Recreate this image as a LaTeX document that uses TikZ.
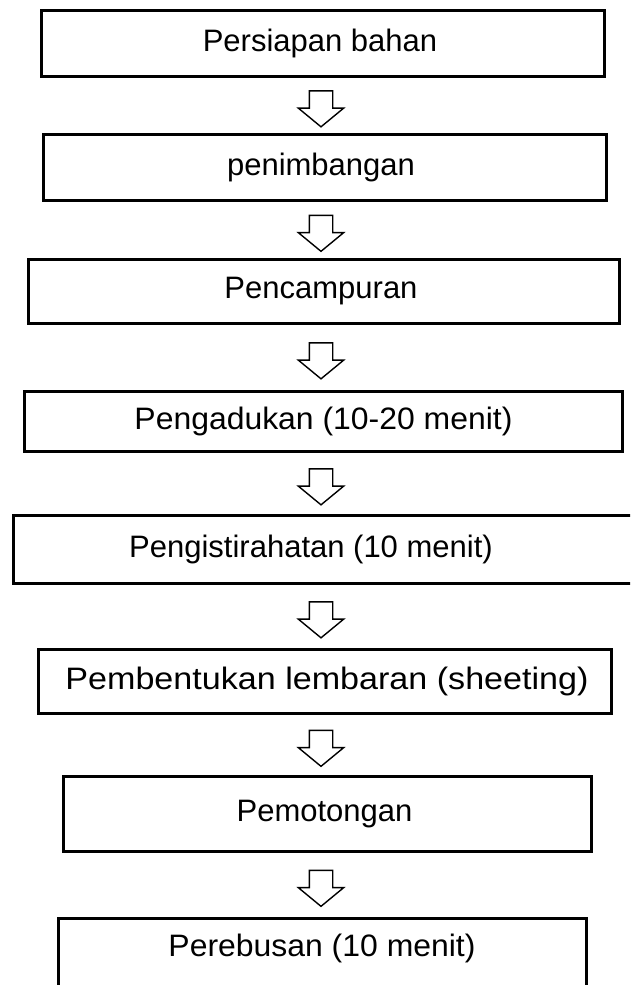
\documentclass[tikz,border=0pt]{standalone}
\usepackage{fontspec}
\setmainfont{Liberation Sans}
\usetikzlibrary{shapes.arrows,calc}
\tikzset{
  stepbox/.style={draw, line width=3pt, inner sep=0pt, font=\fontsize{31pt}{37pt}\selectfont},
  steptext/.style={inner sep=0pt, font=\fontsize{31pt}{37pt}\selectfont},
  blk/.style={single arrow, draw, line width=1.4pt, rotate=-90, inner xsep=0pt, inner ysep=11pt,
    single arrow head extend=11pt, single arrow tip angle=101, minimum height=36pt}
}
\begin{document}
\begin{tikzpicture}[x=1pt,y=-1pt]
\useasboundingbox (0,0) rectangle (630,985);
\clip (0,0) rectangle (630,985);
\node[stepbox, minimum width=563pt, minimum height=66pt] (b1) at (323,43.5) {\hspace*{-6pt}Persiapan bahan};
\node[stepbox, minimum width=563pt, minimum height=66pt] (b2) at (325,167.5) {\hspace*{-8pt}penimbangan};
\node[stepbox, minimum width=591pt, minimum height=64pt] (b3) at (324,291.5) {\hspace*{-6pt}Pencampuran};
\node[stepbox, minimum width=598pt, minimum height=60pt] (b4) at (323.5,421.5) {\scalebox{1.03}[1]{Pengadukan (10-20 menit)}};
\node[stepbox, minimum width=630pt, minimum height=68pt] (b5) at (328.5,549.5) {};
\node[steptext] (t5) at (311,549.5) {Pengistirahatan (10 menit)};
\node[stepbox, minimum width=573pt, minimum height=64pt] (b6) at (325,681.5) {\hspace*{4pt}\scalebox{1.1}[1]{Pembentukan lembaran (sheeting)}};
\node[stepbox, minimum width=528pt, minimum height=75pt] (b7) at (327.5,814) {\hspace*{-6pt}Pemotongan};
\node[stepbox, minimum width=528pt, minimum height=80pt] (b8) at (322.5,958.5) {};
\node[steptext] (t8) at (322,948) {\scalebox{1.03}[1]{Perebusan (10 menit)}};
\coordinate (ax) at (321,0);
\foreach \i/\j in {1/2,2/3,3/4,4/5,5/6,6/7,7/8}{
  \coordinate (m\i) at ($(b\i.south)!0.5!(b\j.north)+(0,-1.5)$);
  \node[blk] (a\i) at (ax |- m\i) {};
}
\end{tikzpicture}
\end{document}
